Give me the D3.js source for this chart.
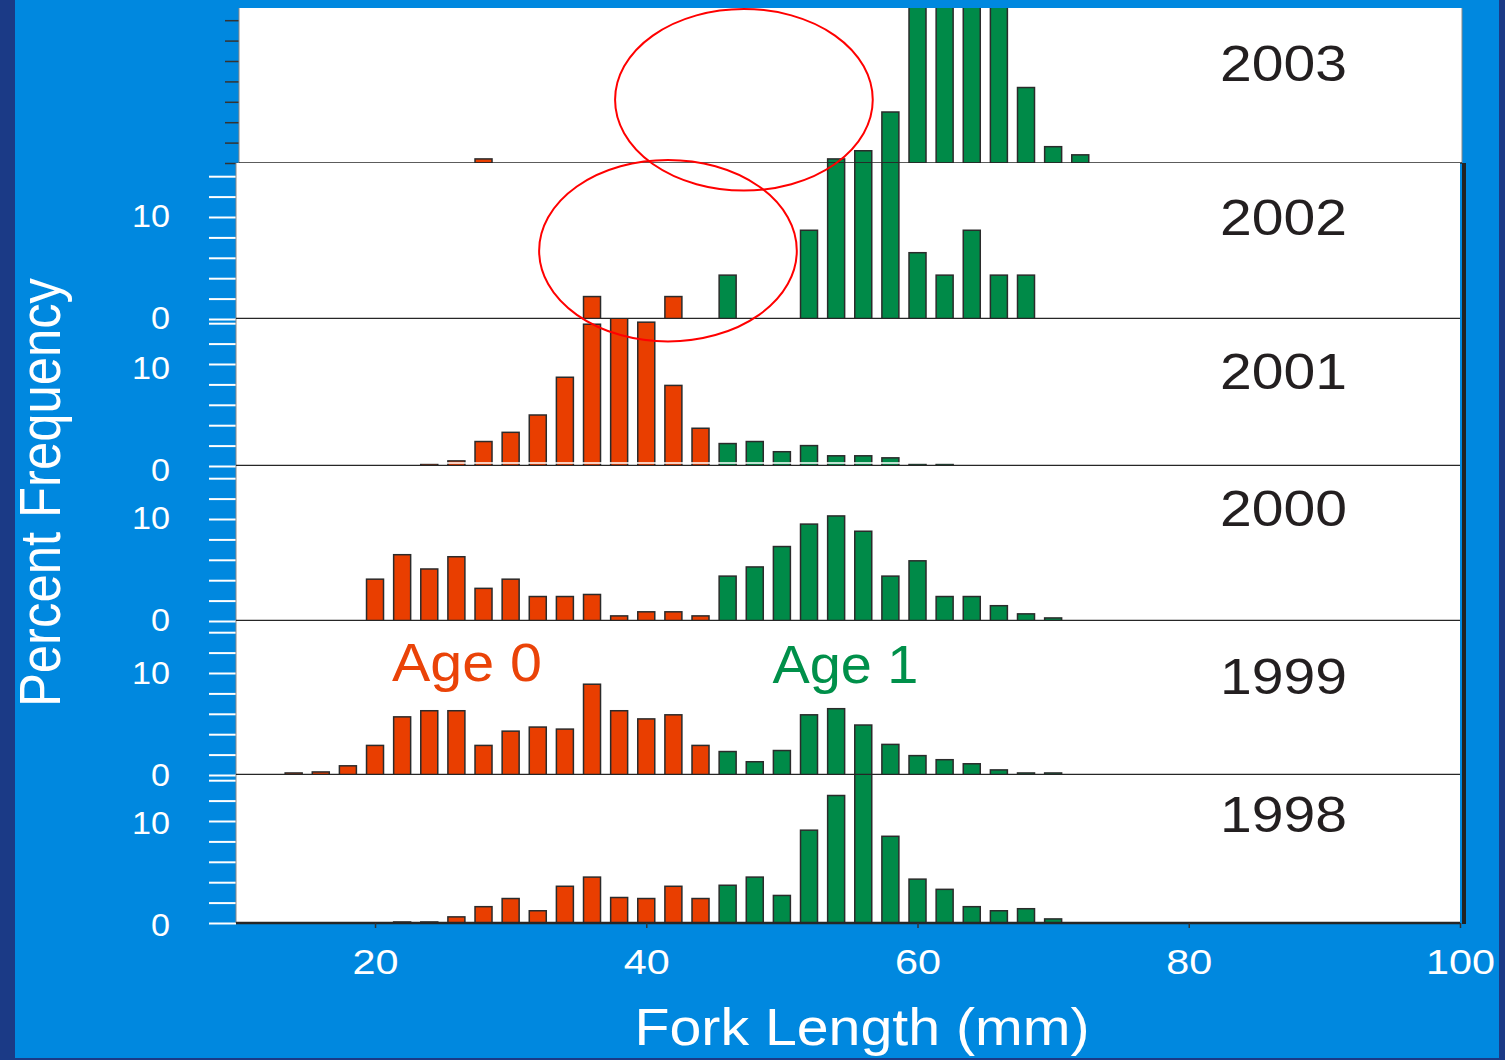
<!DOCTYPE html>
<html>
<head>
<meta charset="utf-8">
<script src="https://d3js.org/d3.v7.min.js"></script>
<style>
  body { margin: 0; background: #1b3a86; }
  svg { display: block; }
  text { font-family: "Liberation Sans", Arial, sans-serif; }
</style>
</head>
<body>
<div id="chart"></div>
<script>
// fork length bins (mm), one bar every 2 mm
const lengths = [14,16,18,20,22,24,26,28,30,32,34,36,38,40,42,44,46,48,50,52,54,56,58,60,62,64,66,68,70,72];

const years = ['2003','2002','2001','2000','1999','1998'];

// percent frequency per bin
const freq2003 = [0,0,0,0,0,0,0,0.4,0,0,0,0,0,0,0,0,0,0,0,0,0.4,1.2,5.0,17,22,24,20,7.4,1.6,0.8];
const freq2002 = [0,0,0,0,0,0,0,0,0,0,0,2.2,0,0,2.2,0,4.3,0,0,8.7,17.4,19.6,17.4,6.5,4.3,8.7,4.3,4.3,0,0];
const freq2001 = [0,0,0,0,0,0.2,0.5,2.4,3.3,5.0,8.7,13.9,14.5,14.1,7.9,3.7,2.2,2.4,1.4,2.0,1.0,1.0,0.8,0.2,0.2,0,0,0,0,0];
const freq2000 = [0,0,0,4.1,6.5,5.1,6.3,3.2,4.1,2.4,2.4,2.6,0.5,0.9,0.9,0.5,4.4,5.3,7.3,9.5,10.3,8.8,4.4,5.9,2.4,2.4,1.5,0.7,0.3,0];
const freq1999 = [0.2,0.3,0.9,2.9,5.7,6.3,6.3,2.9,4.3,4.7,4.5,8.9,6.3,5.5,5.9,2.9,2.3,1.3,2.4,5.9,6.5,4.9,3.0,1.9,1.5,1.1,0.5,0.2,0.2,0];
const freq1998 = [0,0,0,0,0.1,0.1,0.6,1.6,2.4,1.2,3.6,4.5,2.5,2.4,3.6,2.4,3.7,4.5,2.7,9.1,12.5,14.6,8.5,4.3,3.3,1.6,1.2,1.4,0.4,0];

// bins from this length on are age 1 fish
const ageOneFrom = 46;

const xTicks = [20,40,60,80,100];
const yLabelTicks = [0,10];

const freqByYear = {'2003': freq2003, '2002': freq2002, '2001': freq2001,
                    '2000': freq2000, '1999': freq1999, '1998': freq1998};

// layout
const width = 1505, height = 1060;
const ppu = 10.2;  // pixels per percent
const panelLayout = [
  {top: 8,   base: 163, yearY: 81,  labelDy: 0},
  {top: 163, base: 319, yearY: 235, labelDy: 0},
  {top: 319, base: 466, yearY: 389, labelDy: 5},
  {top: 466, base: 621, yearY: 526, labelDy: 0},
  {top: 621, base: 775, yearY: 694, labelDy: 1},
  {top: 775, base: 923, yearY: 832, labelDy: 3}
];
const orange = '#e93e00', green = '#008a48';

const svg = d3.select('#chart').append('svg')
  .attr('width', width)
  .attr('height', height);

// background
svg.append('rect').attr('width', width).attr('height', height).attr('fill', '#1b3a86');
svg.append('rect').attr('x', 15).attr('y', 0).attr('width', 1484).attr('height', 1058).attr('fill', '#0088df');

const x = d3.scaleLinear().domain([10, 100]).range([239.4, 1460]);
const yScales = {};

years.forEach((yr, i) => {
  const p = panelLayout[i];
  const first = i === 0;
  const left = first ? 239 : 236;
  const right = first ? 1462 : 1460;

  const y = d3.scaleLinear()
    .domain([0, (p.base - p.top) / ppu])
    .range([p.base, p.top]);
  yScales[yr] = y;

  const g = svg.append('g').attr('class', 'panel');

  g.append('rect')
    .attr('x', left).attr('y', p.top)
    .attr('width', right - left).attr('height', p.base - p.top)
    .attr('fill', '#fff');

  // y ticks
  g.append('g')
    .attr('transform', `translate(${left},0)`)
    .call(d3.axisLeft(y).tickValues(d3.range(0, y.domain()[1], 2)).tickSize(first ? 14 : 27).tickFormat(''))
    .call(a => a.select('.domain').remove())
    .selectAll('line')
      .attr('stroke', first ? '#333' : '#fff')
      .attr('stroke-width', first ? 1.5 : 2);

  // y labels (not on the top panel)
  if (!first) {
    g.append('g')
      .attr('transform', `translate(${left},${p.labelDy})`)
      .call(d3.axisLeft(y).tickValues(yLabelTicks).tickSize(0).tickPadding(66))
      .call(a => a.select('.domain').remove())
      .selectAll('text')
        .attr('fill', '#fff')
        .attr('font-size', 31)
        .attr('font-family', '"Liberation Sans", Arial, sans-serif')
        .attr('textLength', d => String(d).length * 19)
        .attr('lengthAdjust', 'spacingAndGlyphs');
  }

  svg.append('clipPath').attr('id', 'clip' + yr)
    .append('rect')
    .attr('x', left).attr('y', p.top)
    .attr('width', right - left).attr('height', p.base - p.top + 2);

  const data = lengths
    .map((len, j) => ({len: len, value: freqByYear[yr][j]}))
    .filter(d => d.value > 0);

  g.append('g')
    .attr('clip-path', `url(#clip${yr})`)
    .selectAll('rect')
    .data(data)
    .enter()
    .append('rect')
      .attr('x', d => x(d.len) - 8.5)
      .attr('width', 17)
      .attr('y', d => y(d.value))
      .attr('height', d => y(0) - y(d.value))
      .attr('fill', d => d.len >= ageOneFrom ? green : orange)
      .attr('stroke', '#2b2b2b')
      .attr('stroke-width', 1.5);

  // the odd white rule near the 2001 baseline
  if (yr === '2001') {
    g.append('line')
      .attr('x1', left).attr('x2', right)
      .attr('y1', p.base - 3).attr('y2', p.base - 3)
      .attr('stroke', '#fff').attr('stroke-width', 1.5);
  }

  // frame
  g.append('line')
    .attr('x1', left).attr('x2', left)
    .attr('y1', p.top).attr('y2', p.base)
    .attr('stroke', '#888').attr('stroke-width', 1);
  if (first) {
    g.append('line')
      .attr('x1', right).attr('x2', right)
      .attr('y1', p.top).attr('y2', p.base)
      .attr('stroke', '#888').attr('stroke-width', 1);
  }
  g.append('line')
    .attr('x1', left).attr('x2', right)
    .attr('y1', p.base).attr('y2', p.base)
    .attr('stroke', '#262626').attr('stroke-width', first ? 1.5 : 2.5);

  g.append('text')
    .attr('x', 1347).attr('y', p.yearY)
    .attr('text-anchor', 'end')
    .attr('font-size', 50)
    .attr('fill', '#231f20')
    .attr('textLength', 127)
    .attr('lengthAdjust', 'spacingAndGlyphs')
    .text(yr);
});

// dark right edge of the lower panels
svg.append('line')
  .attr('x1', 1464).attr('x2', 1464)
  .attr('y1', 163).attr('y2', 924)
  .attr('stroke', '#222').attr('stroke-width', 4);

// x axis
svg.append('g')
  .attr('transform', 'translate(0,923)')
  .call(d3.axisBottom(x).tickValues(xTicks).tickSize(5).tickPadding(21))
  .call(a => a.select('.domain').remove())
  .call(a => a.selectAll('line').attr('stroke', '#333').attr('stroke-width', 1.5))
  .selectAll('text')
    .attr('fill', '#fff')
    .attr('font-size', 35)
    .attr('font-family', '"Liberation Sans", Arial, sans-serif')
    .attr('textLength', d => String(d).length * 23)
    .attr('lengthAdjust', 'spacingAndGlyphs');

// axis titles
svg.append('text')
  .attr('transform', 'translate(60,492.5) rotate(-90)')
  .attr('text-anchor', 'middle')
  .attr('font-size', 58)
  .attr('fill', '#fff')
  .attr('textLength', 429)
  .attr('lengthAdjust', 'spacingAndGlyphs')
  .text('Percent Frequency');

svg.append('text')
  .attr('x', 862).attr('y', 1045)
  .attr('text-anchor', 'middle')
  .attr('font-size', 52)
  .attr('fill', '#fff')
  .attr('textLength', 455)
  .attr('lengthAdjust', 'spacingAndGlyphs')
  .text('Fork Length (mm)');

// age labels in the 1999 panel
const y99 = yScales['1999'];
svg.append('text')
  .attr('x', x(21.25)).attr('y', y99(9.2))
  .attr('font-size', 53)
  .attr('fill', '#ea4308')
  .attr('textLength', 150)
  .attr('lengthAdjust', 'spacingAndGlyphs')
  .text('Age 0');
svg.append('text')
  .attr('x', x(49.3)).attr('y', y99(9.0))
  .attr('font-size', 53)
  .attr('fill', '#00904a')
  .attr('textLength', 146)
  .attr('lengthAdjust', 'spacingAndGlyphs')
  .text('Age 1');

// red circles marking the missing age 0 group
const circles = [
  {year: '2003', len: 47.2, pct: 6.2, rLen: 9.5, rPct: 8.9},
  {year: '2002', len: 41.6, pct: 6.7, rLen: 9.5, rPct: 8.9}
];
svg.selectAll('ellipse')
  .data(circles)
  .enter()
  .append('ellipse')
    .attr('cx', d => x(d.len))
    .attr('cy', d => yScales[d.year](d.pct))
    .attr('rx', d => x(d.len + d.rLen) - x(d.len))
    .attr('ry', d => yScales[d.year](0) - yScales[d.year](d.rPct))
    .attr('fill', 'none')
    .attr('stroke', '#ff0000')
    .attr('stroke-width', 2);
</script>
</body>
</html>
